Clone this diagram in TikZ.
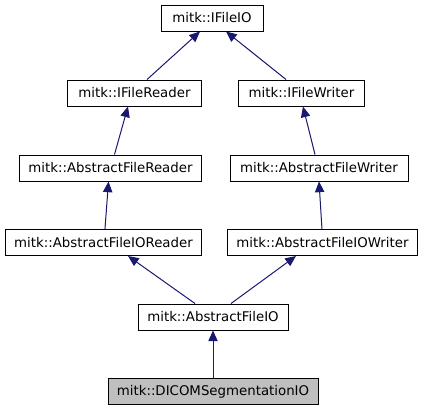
\documentclass[tikz,border=0pt]{standalone}
\usepackage{fontspec}
\setmainfont{DejaVu Sans}
\usetikzlibrary{arrows.meta,positioning}

\begin{document}
\begin{tikzpicture}[x=0.75pt, y=-0.75pt,
    cls/.style={rectangle, draw=black, line width=0.75pt, minimum height=19.5pt, inner sep=0pt, font=\fontsize{10}{12}\selectfont},
    this/.style={cls, fill=black!25},
    inherit/.style={draw={rgb,255:red,25;green,25;blue,112}, line width=0.75pt, -{Triangle[length=8pt,width=7pt]}}]
                \useasboundingbox (0,0) rectangle (423,411);
                \node[cls, minimum width=76.5pt] (IFileIO) at (212,18) {mitk::IFileIO};
                \node[cls, minimum width=100pt] (IFileReader) at (134.5,93) {mitk::IFileReader};
                \node[cls, minimum width=95pt] (IFileWriter) at (301.5,93) {mitk::IFileWriter};
                \node[cls, minimum width=137pt] (AbstractFileReader) at (110.5,168) {mitk::AbstractFileReader};
                \node[cls, minimum width=133.5pt] (AbstractFileWriter) at (319,168) {mitk::AbstractFileWriter};
                \node[cls, minimum width=147.5pt] (AbstractFileIOReader) at (103.5,242.5) {mitk::AbstractFileIOReader};
                \node[cls, minimum width=143pt] (AbstractFileIOWriter) at (322.5,242.5) {mitk::AbstractFileIOWriter};
                \node[cls, minimum width=112.5pt] (AbstractFileIO) at (213,317) {mitk::AbstractFileIO};
                \node[this, minimum width=157.5pt] (DICOMSegmentationIO) at (213,391.5) {mitk::DICOMSegmentationIO};
                \draw[inherit] ([xshift=9.4pt]IFileReader.north) -- ([xshift=-9pt]IFileIO.south);
                \draw[inherit] ([xshift=-11.6pt]IFileWriter.north) -- ([xshift=10.5pt]IFileIO.south);
                \draw[inherit] ([xshift=3pt]AbstractFileReader.north) -- ([xshift=-4.9pt]IFileReader.south);
                \draw[inherit] ([xshift=-3pt]AbstractFileWriter.north) -- ([xshift=1.1pt]IFileWriter.south);
                \draw[inherit] ([xshift=1.1pt]AbstractFileIOReader.north) -- ([xshift=-1.5pt]AbstractFileReader.south);
                \draw[inherit] ([xshift=-0.4pt]AbstractFileIOWriter.north) -- (AbstractFileWriter.south);
                \draw[inherit] ([xshift=-13.5pt]AbstractFileIO.north) -- ([xshift=18.4pt]AbstractFileIOReader.south);
                \draw[inherit] ([xshift=13.5pt]AbstractFileIO.north) -- ([xshift=-19.9pt]AbstractFileIOWriter.south);
                \draw[inherit] (DICOMSegmentationIO.north) -- (AbstractFileIO.south);
            \end{tikzpicture}
\end{document}
